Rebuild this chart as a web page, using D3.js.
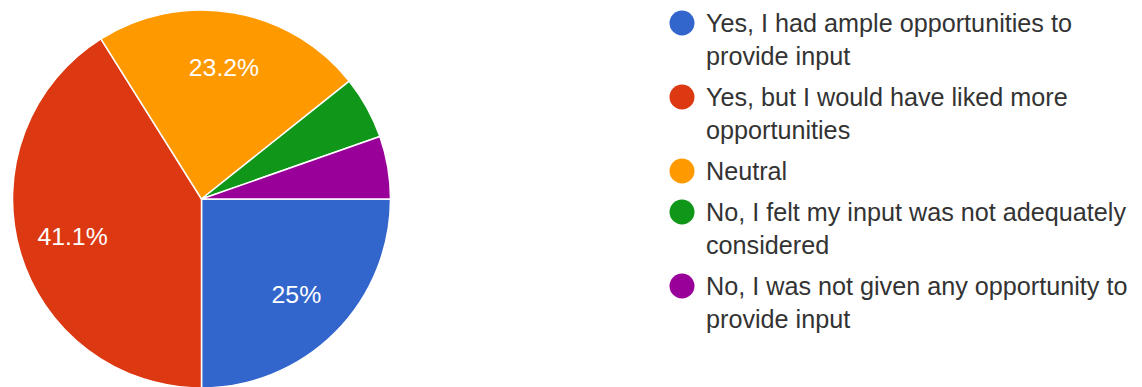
<!DOCTYPE html>
<html>
<head>
<meta charset="utf-8">
<script src="https://cdn.jsdelivr.net/npm/d3@7"></script>
<style>
  body { margin: 0; background: #fff; }
  text { font-family: Arial, "Liberation Sans", sans-serif; }
</style>
</head>
<body>
<div class="chart"></div>
<script>
let categories = [
  "Yes, I had ample opportunities to provide input",
  "Yes, but I would have liked more opportunities",
  "Neutral",
  "No, I felt my input was not adequately considered",
  "No, I was not given any opportunity to provide input"
];
let counts = [14, 23, 13, 3, 3];
let colors = ["#3366cc", "#dc3912", "#ff9900", "#109618", "#990099"];

let w = 1142;
let h = 387;
let cx = 201.5;
let cy = 199;
let radius = 189;

let total = d3.sum(counts);
let data = categories.map((c, i) => ({ name: c, value: counts[i], color: colors[i] }));

const svg = d3.select(".chart")
  .append("svg")
  .attr("width", w)
  .attr("height", h);

// slices start at 3 o'clock and go clockwise
let pie = d3.pie()
  .value(d => d.value)
  .sort(null)
  .startAngle(Math.PI / 2)
  .endAngle(Math.PI / 2 + 2 * Math.PI);

let arc = d3.arc().innerRadius(0).outerRadius(radius);
let labelArc = d3.arc().innerRadius(radius * 0.71).outerRadius(radius * 0.71);

let g = svg.append("g").attr("transform", `translate(${cx},${cy})`);

let arcs = pie(data);

g.selectAll("path")
  .data(arcs)
  .enter()
  .append("path")
  .attr("d", arc)
  .attr("fill", d => d.data.color)
  .attr("stroke", "#fff")
  .attr("stroke-width", 1.5);

g.selectAll(".slice-label")
  .data(arcs.filter(d => d.data.value / total > 0.1))
  .enter()
  .append("text")
  .attr("class", "slice-label")
  .attr("transform", d => `translate(${labelArc.centroid(d)})`)
  .attr("text-anchor", "middle")
  .attr("dy", "0.36em")
  .attr("fill", "#fff")
  .style("font-size", "24.8px")
  .text(d => Math.round(d.data.value / total * 1000) / 10 + "%");

// legend
let legendX = 682;
let textX = 706;
let lineH = 33;
let itemGap = 41;
let maxW = 438;
let y = 31.5;

let legend = svg.append("g").attr("class", "legend");

data.forEach(d => {
  let item = legend.append("g");
  item.append("circle")
    .attr("cx", legendX)
    .attr("cy", y - 8.5)
    .attr("r", 12.5)
    .attr("fill", d.color);

  let words = d.name.split(" ");
  let line = [];
  let lineNo = 0;
  let t = item.append("text")
    .attr("x", textX)
    .attr("y", y + lineNo * lineH)
    .attr("fill", "#333")
    .style("font-size", "25.2px");
  words.forEach(word => {
    line.push(word);
    t.text(line.join(" "));
    if (t.node().getComputedTextLength() > maxW && line.length > 1) {
      line.pop();
      t.text(line.join(" "));
      line = [word];
      lineNo++;
      t = item.append("text")
        .attr("x", textX)
        .attr("y", y + lineNo * lineH)
        .attr("fill", "#333")
        .style("font-size", "25.2px")
        .text(word);
    }
  });
  y += lineNo * lineH + itemGap;
});
</script>
</body>
</html>
